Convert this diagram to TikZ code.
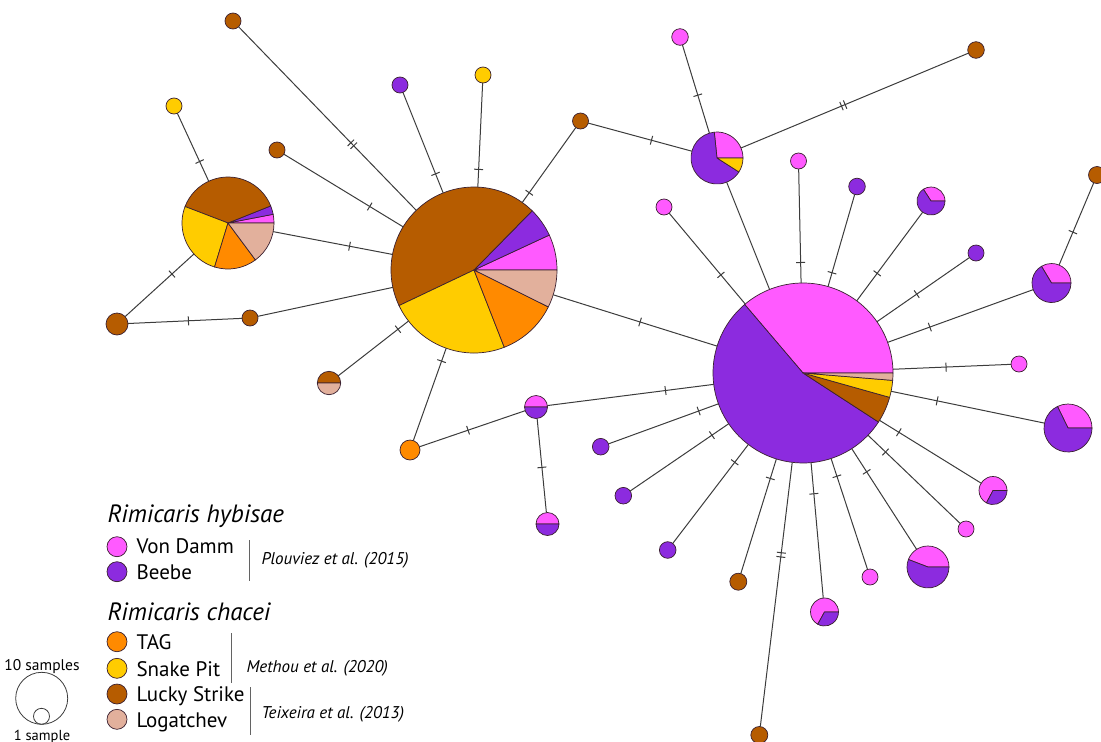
\documentclass[tikz,border=0pt]{standalone}
\usepackage{fontspec}
\setmainfont{PT Sans}
\definecolor{cpink}{HTML}{FF5AFF}
\definecolor{cpurp}{HTML}{8C2BDF}
\definecolor{corng}{HTML}{FF8A00}
\definecolor{cyell}{HTML}{FFCC00}
\definecolor{cbrwn}{HTML}{B65C00}
\definecolor{clogt}{HTML}{E2B09C}
\definecolor{cline}{HTML}{3C3C3C}
\definecolor{cout}{HTML}{3A2030}
\newcommand\pslice[5]{\filldraw[fill=#5, draw=cout, line width=0.7pt, line join=round] (#1.center) -- ++(-#3:#2) arc[start angle=-#3, end angle=-#4, radius=#2] -- cycle;}
\tikzset{
  hap/.style={circle, draw=cout, line width=0.7pt, inner sep=0pt, outer sep=0pt},
  piec/.style={circle, inner sep=0pt, outer sep=0pt, minimum size=#1},
  edge/.style={draw=cline, line width=1pt},
  tk/.style={sloped, rectangle, draw=cline, line width=1pt, inner sep=0pt, outer sep=0pt, minimum width=0pt, minimum height=9pt},
  lgt/.style={anchor=base west, font=\fontsize{21}{24}\selectfont},
  lgh/.style={anchor=base west, font=\fontsize{25}{29}\selectfont\itshape},
  lgc/.style={anchor=west, font=\fontsize{17}{20}\selectfont\itshape},
  bar/.style={draw=cline!80, line width=1pt}
}
\begin{document}
\begin{tikzpicture}[x=1pt,y=-1pt]
\useasboundingbox (0,0) rectangle (1101,742);
% ---------- pie nodes ----------
\node[piec=166pt] (A) at (474,270) {};
\node[piec=180pt] (B) at (803,373) {};
\node[piec=92pt] (C) at (228,223) {};
\node[piec=52pt] (D) at (717,158) {};
\node[piec=28pt] (p1) at (931,201) {};
\node[piec=39pt] (p2) at (1051.5,283) {};
\node[piec=48pt] (p3) at (1068,428) {};
\node[piec=28pt] (p4) at (993,490.5) {};
\node[piec=42pt] (p5) at (928,567) {};
\node[piec=28pt] (p6) at (824.5,612) {};
\node[piec=23.4pt] (h1) at (329,383) {};
\node[piec=23pt] (h2) at (536,407) {};
\node[piec=23pt] (h3) at (547.5,524) {};
% ---------- single nodes ----------
\node[hap, fill=cbrwn, minimum size=16pt] (n1) at (233,21) {};
\node[hap, fill=cbrwn, minimum size=16pt] (n2) at (277,150) {};
\node[hap, fill=cpurp, minimum size=16pt] (n3) at (400,85) {};
\node[hap, fill=cyell, minimum size=16pt] (n4) at (483,75) {};
\node[hap, fill=cbrwn, minimum size=16pt] (n5) at (580.5,121) {};
\node[hap, fill=cbrwn, minimum size=16pt] (n6) at (250,318) {};
\node[hap, fill=corng, minimum size=20pt] (n7) at (410,450) {};
\node[hap, fill=cyell, minimum size=16pt] (n8) at (174,106) {};
\node[hap, fill=cbrwn, minimum size=22pt] (n9) at (117,324) {};
\node[hap, fill=cpink, minimum size=16.6pt] (n10) at (680,37) {};
\node[hap, fill=cbrwn, minimum size=16.6pt] (n11) at (976,50) {};
\node[hap, fill=cpink, minimum size=16pt] (n12) at (664,207) {};
\node[hap, fill=cpink, minimum size=16pt] (n13) at (798.5,161) {};
\node[hap, fill=cpurp, minimum size=16.6pt] (n14) at (857,186.5) {};
\node[hap, fill=cpurp, minimum size=16pt] (n15) at (976,253) {};
\node[hap, fill=cbrwn, minimum size=17pt] (n16) at (1097,175) {};
\node[hap, fill=cpink, minimum size=16pt] (n17) at (1019,364) {};
\node[hap, fill=cpink, minimum size=16pt] (n18) at (966,529) {};
\node[hap, fill=cpink, minimum size=16pt] (n19) at (870,577) {};
\node[hap, fill=cbrwn, minimum size=17pt] (n20) at (759.3,735) {};
\node[hap, fill=cbrwn, minimum size=17pt] (n21) at (738.3,581.7) {};
\node[hap, fill=cpurp, minimum size=16.6pt] (n22) at (667.7,550) {};
\node[hap, fill=cpurp, minimum size=16.6pt] (n23) at (623.3,495.7) {};
\node[hap, fill=cpurp, minimum size=16.6pt] (n24) at (600.7,446.7) {};
% ---------- pie slices ----------
\pslice{A}{83}{0}{24.9}{cpink}
\pslice{A}{83}{24.9}{45.5}{cpurp}
\pslice{A}{83}{45.5}{205.4}{cbrwn}
\pslice{A}{83}{205.4}{291.4}{cyell}
\pslice{A}{83}{291.4}{333.6}{corng}
\pslice{A}{83}{333.6}{360}{clogt}
\pslice{B}{90}{0}{130.4}{cpink}
\pslice{B}{90}{130.4}{327}{cpurp}
\pslice{B}{90}{327}{344.3}{cbrwn}
\pslice{B}{90}{344.3}{355.3}{cyell}
\pslice{B}{90}{355.3}{360}{clogt}
\pslice{C}{46}{0}{10.9}{cpink}
\pslice{C}{46}{10.9}{21.8}{cpurp}
\pslice{C}{46}{21.8}{159}{cbrwn}
\pslice{C}{46}{159}{253}{cyell}
\pslice{C}{46}{253}{306.6}{corng}
\pslice{C}{46}{306.6}{360}{clogt}
\pslice{D}{26}{0}{96}{cpink}
\pslice{D}{26}{96}{327.5}{cpurp}
\pslice{D}{26}{327.5}{360}{cyell}
\pslice{p1}{14}{0}{123}{cpink}
\pslice{p1}{14}{123}{360}{cpurp}
\pslice{p2}{19.5}{0}{121}{cpink}
\pslice{p2}{19.5}{121}{360}{cpurp}
\pslice{p3}{24}{0}{116}{cpink}
\pslice{p3}{24}{116}{360}{cpurp}
\pslice{p4}{14}{0}{242}{cpink}
\pslice{p4}{14}{242}{360}{cpurp}
\pslice{p5}{21}{0}{159}{cpink}
\pslice{p5}{21}{159}{360}{cpurp}
\pslice{p6}{14}{0}{241}{cpink}
\pslice{p6}{14}{241}{360}{cpurp}
\pslice{h1}{11.7}{0}{180}{cbrwn}
\pslice{h1}{11.7}{180}{360}{clogt}
\pslice{h2}{11.5}{0}{180}{cpink}
\pslice{h2}{11.5}{180}{360}{cpurp}
\pslice{h3}{11.5}{0}{180}{cpink}
\pslice{h3}{11.5}{180}{360}{cpurp}
% ---------- edges ----------
\path[edge] (n1) -- node[tk,pos=0.632]{} node[tk,pos=0.648]{} (A);
\path[edge] (n2) -- node[tk,pos=0.72]{} (A);
\path[edge] (n3) -- node[tk,pos=0.81]{} (A);
\path[edge] (n4) -- node[tk,pos=0.83]{} (A);
\path[edge] (n5) -- node[tk,pos=0.87]{} (A);
\path[edge] (n5) -- node[tk,pos=0.61]{} (D);
\path[edge] (C) -- node[tk,pos=0.64]{} (A);
\path[edge] (n6) -- (A);
\path[edge] (h1) -- node[tk,pos=0.85]{} (A);
\path[edge] (n7) -- node[tk,pos=0.86]{} (A);
\path[edge] (A) -- node[tk,pos=0.53]{} (B);
\path[edge] (n8) -- node[tk,pos=0.71]{} (C);
\path[edge] (n9) -- node[tk,pos=0.68]{} (C);
\path[edge] (n9) -- node[tk,pos=0.53]{} (n6);
\path[edge] (n10) -- node[tk,pos=0.57]{} (D);
\path[edge] (n11) -- node[tk,pos=0.542]{} node[tk,pos=0.558]{} (D);
\path[edge] (D) -- (B);
\path[edge] (n12) -- node[tk,pos=0.68]{} (B);
\path[edge] (n13) -- node[tk,pos=0.82]{} (B);
\path[edge] (n14) -- node[tk,pos=0.85]{} (B);
\path[edge] (p1) -- node[tk,pos=0.69]{} (B);
\path[edge] (n15) -- node[tk,pos=0.57]{} (B);
\path[edge] (p2) -- node[tk,pos=0.71]{} (B);
\path[edge] (n16) -- node[tk,pos=0.6]{} (p2);
\path[edge] (n17) -- node[tk,pos=0.55]{} (B);
\path[edge] (p3) -- node[tk,pos=0.70]{} (B);
\path[edge] (p4) -- node[tk,pos=0.81]{} (B);
\path[edge] (n18) -- node[tk,pos=0.81]{} (B);
\path[edge] (p5) -- node[tk,pos=0.77]{} (B);
\path[edge] (n19) -- node[tk,pos=0.84]{} (B);
\path[edge] (p6) -- node[tk,pos=0.77]{} (B);
\path[edge] (n20) -- node[tk,pos=0.642]{} node[tk,pos=0.658]{} (B);
\path[edge] (n21) -- node[tk,pos=0.83]{} (B);
\path[edge] (n22) -- node[tk,pos=0.82]{} (B);
\path[edge] (n23) -- node[tk,pos=0.83]{} (B);
\path[edge] (n24) -- node[tk,pos=0.82]{} (B);
\path[edge] (h2) -- node[tk,pos=0.71]{} (B);
\path[edge] (h2) -- node[tk,pos=0.52]{} (h3);
\path[edge] (n7) -- node[tk,pos=0.46]{} (h2);
% ---------- legend ----------
\node[lgh] (t1) at (104,522) {Rimicaris hybisae};
\node[hap, fill=cpink, minimum size=20pt] (l1) at (117,546.7) {};
\node[lgt] (l1t) at (133,553.3) {Von Damm};
\node[hap, fill=cpurp, minimum size=20pt] (l2) at (117,571.7) {};
\node[lgt] (l2t) at (133,579.3) {Beebe};
\path[bar] (249.3,540) -- (249.3,580.7);
\node[lgc] (c1) at (258,560) {Plouviez et al. (2015)};
\node[lgh] (t2) at (104,620.7) {Rimicaris chacei};
\node[hap, fill=corng, minimum size=20pt] (l3) at (117,641.7) {};
\node[lgt] (l3t) at (133,649.3) {TAG};
\node[hap, fill=cyell, minimum size=20pt] (l4) at (117,668.3) {};
\node[lgt] (l4t) at (133,676.7) {Snake Pit};
\node[hap, fill=cbrwn, minimum size=20pt] (l5) at (117,694) {};
\node[lgt] (l5t) at (133,701.7) {Lucky Strike};
\node[hap, fill=clogt, minimum size=20pt] (l6) at (117,719.3) {};
\node[lgt] (l6t) at (133,727.3) {Logatchev};
\path[bar] (231.7,633.3) -- (231.7,683.3);
\node[lgc] (c2) at (243,668) {Methou et al. (2020)};
\path[bar] (250,687.3) -- (250,735);
\node[lgc] (c3) at (258,714) {Teixeira et al. (2013)};
% scale
\node[circle, draw=cline, line width=0.8pt, minimum size=52pt, inner sep=0pt] (s10) at (41.7,698.3) {};
\node[circle, draw=cline, line width=0.8pt, minimum size=16pt, inner sep=0pt] (s1) at (41.5,716.3) {};
\node[font=\fontsize{15.5}{18}\selectfont] (s10t) at (42,667) {10 samples};
\node[font=\fontsize{14.5}{17}\selectfont, inner sep=0pt, anchor=base] (s1t) at (42,740) {1 sample};
\end{tikzpicture}
\end{document}
